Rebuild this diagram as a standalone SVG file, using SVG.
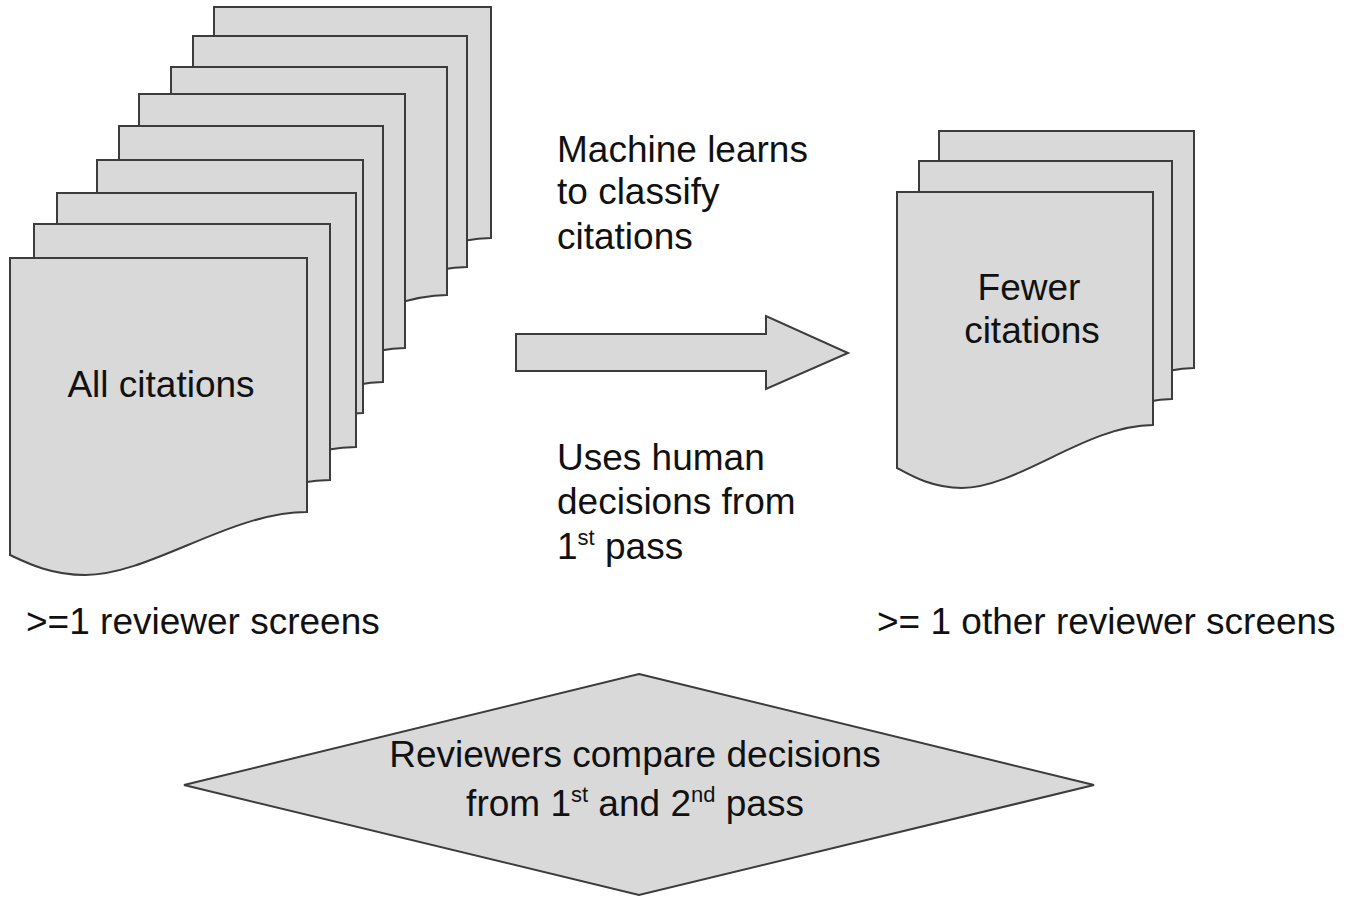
<svg xmlns="http://www.w3.org/2000/svg" width="1355" height="898" viewBox="0 0 1355 898">
<style>
.sheet{fill:#d9d9d9;stroke:#3c3c3c;stroke-width:2;stroke-linejoin:miter}
.shape{fill:#d9d9d9;stroke:#3c3c3c;stroke-width:2}
text{font-family:"Liberation Sans",Arial,sans-serif;font-size:37px;fill:#111}
.c{text-anchor:middle}
</style>
<rect width="1355" height="898" fill="#ffffff"/>
<g id="all-citations">
<path class="sheet" d="M214,7 H491 V238 C419.3,238 344.5,301 284.1,301 C251.4,301 227.9,288 214,281 Z"/>
<path class="sheet" d="M193,36 H467 V267 C396,267 322,330 262.3,330 C230,330 206.7,317 193,310 Z"/>
<path class="sheet" d="M171,67 H447 V295 C375.5,295 301,358 240.8,358 C208.3,358 184.8,345 171,338 Z"/>
<path class="sheet" d="M139,94 H405 V348 C336.1,348 264.3,411 206.3,411 C174.9,411 152.3,398 139,391 Z"/>
<path class="sheet" d="M119,126 H383 V382 C314.6,382 243.3,445 185.8,445 C154.6,445 132.2,432 119,425 Z"/>
<path class="sheet" d="M97,160 H363 V413 C294.1,413 222.3,476 164.3,476 C132.9,476 110.3,463 97,456 Z"/>
<path class="sheet" d="M57,193 H356 V447 C278.6,447 197.8,510 132.6,510 C97.4,510 72,497 57,490 Z"/>
<path class="sheet" d="M34,224 H330 V480 C253.3,480 173.4,543 108.9,543 C74,543 48.8,530 34,523 Z"/>
<path class="sheet" d="M10,258 H307 V512 C230,512 150,575 85,575 C50,575 25,562 10,555 Z"/>
<text class="c" x="161" y="397">All citations</text>
</g>
<g id="fewer-citations">
<path class="sheet" d="M939,131 H1194 V368 C1128,368 1059.1,431 1003.5,431 C973.4,431 951.8,418 939,411 Z"/>
<path class="sheet" d="M919,161 H1172 V399 C1106.5,399 1038.2,462 983,462 C953.2,462 931.7,449 919,442 Z"/>
<path class="sheet" d="M897,192 H1153 V425 C1086.7,425 1017.6,488 961.8,488 C931.6,488 909.8,475 897,468 Z"/>
<text class="c" x="1029" y="300">Fewer</text>
<text class="c" x="1032" y="343">citations</text>
</g>
<g id="connectors">
<path class="shape" d="M516,334 H766 V316 L848,353 L766,389 V371 H516 Z"/>
</g>
<g id="machine-label">
<text x="557" y="162">Machine learns</text>
<text x="557" y="204">to classify</text>
<text x="557" y="249">citations</text>
</g>
<g id="human-label">
<text x="557" y="470">Uses human</text>
<text x="557" y="514">decisions from</text>
<text x="557" y="559">1<tspan font-size="22" dy="-14">st</tspan><tspan dy="14"> pass</tspan></text>
</g>
<g id="reviewer-labels">
<text x="26" y="634">&gt;=1 reviewer screens</text>
<text x="877" y="634">&gt;= 1 other reviewer screens</text>
</g>
<g id="compare">
<path class="shape" d="M639,674 L1094,785 L639,895 L184,785 Z"/>
<text class="c" x="635" y="767">Reviewers compare decisions</text>
<text class="c" x="635" y="816">from 1<tspan font-size="22" dy="-14">st</tspan><tspan dy="14"> and 2</tspan><tspan font-size="22" dy="-14">nd</tspan><tspan dy="14"> pass</tspan></text>
</g>
</svg>
